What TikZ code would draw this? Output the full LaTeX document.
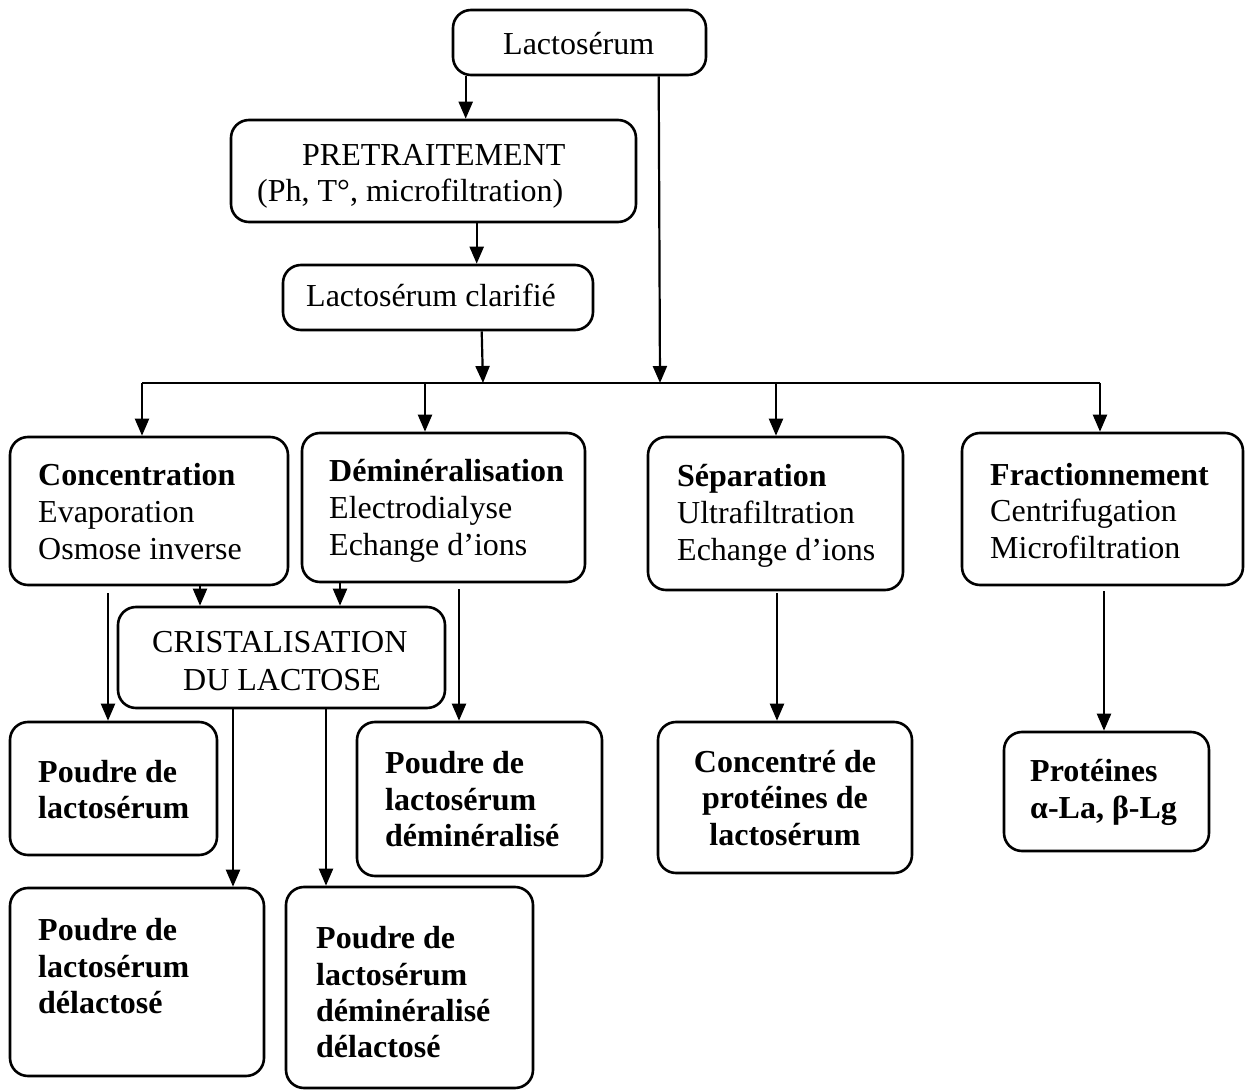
\documentclass[tikz,border=0pt]{standalone}
\usepackage{fontspec}
\setmainfont{Liberation Serif}
\usetikzlibrary{arrows.meta}
\begin{document}
\begin{tikzpicture}[x=1pt,y=-1pt,
  box/.style={draw,line width=2.6pt,rounded corners=18pt,inner sep=0pt},
  txt/.style={anchor=base west,inner sep=0pt,font=\fontsize{32}{37}\selectfont},
  btxt/.style={txt,font=\fontsize{32}{37}\selectfont\bfseries},
  arr/.style={line width=2.2pt,-{Triangle[length=17pt,width=14pt]}},
  ln/.style={line width=2.2pt}]
\useasboundingbox (0,0) rectangle (1254,1091);
% boxes (centre, width, height)
\node[box,minimum width=253pt,minimum height=65pt] (lac) at (579.5,42.5) {};
\node[box,minimum width=405pt,minimum height=102pt] (pre) at (433.5,171) {};
\node[box,minimum width=310pt,minimum height=65pt] (cla) at (438,297.5) {};
\node[box,minimum width=278pt,minimum height=148pt] (con) at (149,511) {};
\node[box,minimum width=283pt,minimum height=149pt] (dem) at (443.5,507.5) {};
\node[box,minimum width=255pt,minimum height=153pt] (sep) at (775.5,513.5) {};
\node[box,minimum width=281pt,minimum height=152pt] (fra) at (1102.5,509) {};
\node[box,minimum width=327pt,minimum height=101pt] (cri) at (281.5,657.5) {};
\node[box,minimum width=207pt,minimum height=133pt] (pl) at (113.5,788.5) {};
\node[box,minimum width=245pt,minimum height=154pt] (pld) at (479.5,799) {};
\node[box,minimum width=254pt,minimum height=151pt] (cpl) at (785,797.5) {};
\node[box,minimum width=205pt,minimum height=119pt] (prot) at (1106.5,791.5) {};
\node[box,minimum width=254pt,minimum height=188pt] (pdl) at (137,982) {};
\node[box,minimum width=247pt,minimum height=201pt] (pdd) at (409.5,987.5) {};
% texts
\node[txt] (t1) at (503,55) {Lactosérum};
\node[txt] (t2) at (302,166) {PRETRAITEMENT};
\node[txt] (t3) at (257,202) {(Ph, T°, microfiltration)};
\node[txt] (t4) at (306,307) {Lactosérum clarifié};
\node[btxt] (t5) at (38,485) {Concentration};
\node[txt] (t6) at (38,522) {Evaporation};
\node[txt] (t7) at (38,559) {Osmose inverse};
\node[btxt] (t8) at (329,481) {Déminéralisation};
\node[txt] (t9) at (329,518) {Electrodialyse};
\node[txt] (t10) at (329,555) {Echange d’ions};
\node[btxt] (t11) at (677,486) {Séparation};
\node[txt] (t12) at (677,523) {Ultrafiltration};
\node[txt] (t13) at (677,560) {Echange d’ions};
\node[btxt] (t14) at (990,485) {Fractionnement};
\node[txt] (t15) at (990,521) {Centrifugation};
\node[txt] (t16) at (990,558) {Microfiltration};
\node[txt] (t17) at (152,652) {CRISTALISATION};
\node[txt] (t18) at (183,690) {DU LACTOSE};
\node[btxt] (t19) at (38,782) {Poudre de};
\node[btxt] (t20) at (38,818) {lactosérum};
\node[btxt] (t21) at (385,773) {Poudre de};
\node[btxt] (t22) at (385,810) {lactosérum};
\node[btxt] (t23) at (385,846) {déminéralisé};
\node[btxt,anchor=base] (t24) at (785,772) {Concentré de};
\node[btxt,anchor=base] (t25) at (785,808) {protéines de};
\node[btxt,anchor=base] (t26) at (785,845) {lactosérum};
\node[btxt] (t27) at (1030,781) {Protéines};
\node[btxt] (t28) at (1030,818) {α-La, β-Lg};
\node[btxt] (t29) at (38,940) {Poudre de};
\node[btxt] (t30) at (38,977) {lactosérum};
\node[btxt] (t31) at (38,1013) {délactosé};
\node[btxt] (t32) at (316,948) {Poudre de};
\node[btxt] (t33) at (316,985) {lactosérum};
\node[btxt] (t34) at (316,1021) {déminéralisé};
\node[btxt] (t35) at (316,1057) {délactosé};
% distribution bar and column positions
\coordinate (busL) at (142,383);
\coordinate (busR) at (1100,383);
\coordinate (j1) at (483,383);
\coordinate (j2) at (660,383);
\coordinate (j3) at (425,383);
\coordinate (j4) at (776,383);
\coordinate (c108) at (108,0);
\coordinate (c200) at (200,0);
\coordinate (c233) at (233,0);
\coordinate (c326) at (326,0);
\coordinate (c340) at (340,0);
\coordinate (c459) at (459,0);
\coordinate (c777) at (777,0);
\coordinate (c1104) at (1104,0);
% connectors
\draw[arr] ([xshift=14pt]lac.south west) -- ([xshift=236pt]pre.north west);
\draw[arr] ([xshift=207pt]lac.south west) -- (j2);
\draw[arr] ([xshift=247pt]pre.south west) -- ([xshift=195pt]cla.north west);
\draw[arr] ([xshift=200pt]cla.south west) -- (j1);
\draw[ln] (busL) -- (busR);
\draw[arr] (busL) -- (con.north -| busL);
\draw[arr] (j3) -- (dem.north -| j3);
\draw[arr] (j4) -- (sep.north -| j4);
\draw[arr] (busR) -- (fra.north -| busR);
\draw[arr] (con.south -| c200) -- (cri.north -| c200);
\draw[arr] (dem.south -| c340) -- (cri.north -| c340);
\draw[arr] ([yshift=-7pt]con.south -| c108) -- (pl.north -| c108);
\draw[arr] ([yshift=-6pt]dem.south -| c459) -- (pld.north -| c459);
\draw[arr] (cri.south -| c233) -- (pdl.north -| c233);
\draw[arr] (cri.south -| c326) -- (pdd.north -| c326);
\draw[arr] ([yshift=-2pt]sep.south -| c777) -- (cpl.north -| c777);
\draw[arr] ([yshift=-5pt]fra.south -| c1104) -- (prot.north -| c1104);
\end{tikzpicture}
\end{document}
